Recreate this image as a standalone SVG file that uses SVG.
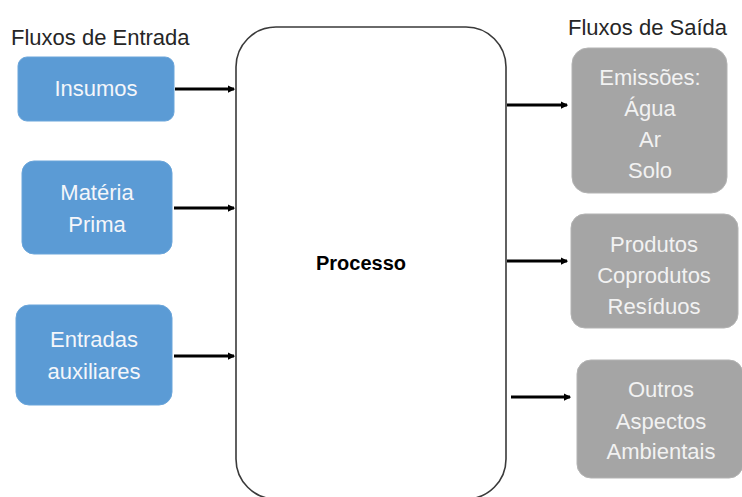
<svg xmlns="http://www.w3.org/2000/svg" width="742" height="497" viewBox="0 0 742 497">
<style>
.hdr{font-family:"Liberation Sans",Arial,sans-serif;font-size:22px;fill:#262626}
.bt{font-family:"Liberation Sans",Arial,sans-serif;font-size:22px;fill:#f4f6fa;text-anchor:middle}
.gt{font-family:"Liberation Sans",Arial,sans-serif;font-size:22px;fill:#f2f2f2;text-anchor:middle}
.blue{fill:#5b9bd5;stroke:#6aa5da;stroke-width:1}
.grey{fill:#a5a5a5;stroke:#b3b3b3;stroke-width:1}
.arr{stroke:#000;stroke-width:3;fill:none;marker-end:url(#ah)}
</style>
<defs>
<marker id="ah" viewBox="0 0 6 6" refX="5" refY="3" markerWidth="2.5" markerHeight="2.5" orient="auto" markerUnits="strokeWidth">
<path d="M0,0 L6,3 L0,6 z" fill="#000"/>
</marker>
</defs>
<rect width="742" height="497" fill="#fff"/>
<text class="hdr" x="11" y="45">Fluxos de Entrada</text>
<text class="hdr" x="568" y="35">Fluxos de Saída</text>
<g id="processo">
<rect x="236" y="27" width="270" height="472" rx="40" ry="40" fill="#fff" stroke="#3a3a3a" stroke-width="1.6"/>
<text x="361" y="270" font-family="Liberation Sans,Arial,sans-serif" font-size="20" font-weight="bold" text-anchor="middle" fill="#000">Processo</text>
</g>
<g id="insumos">
<rect class="blue" x="18" y="57" width="156" height="64" rx="9"/>
<text class="bt" x="96" y="96">Insumos</text>
</g>
<g id="materia-prima">
<rect class="blue" x="22" y="161" width="150" height="93" rx="12"/>
<text class="bt" x="97" y="200">Matéria</text>
<text class="bt" x="97" y="232">Prima</text>
</g>
<g id="entradas-auxiliares">
<rect class="blue" x="16" y="305" width="156" height="100" rx="13"/>
<text class="bt" x="94" y="347">Entradas</text>
<text class="bt" x="94" y="379">auxiliares</text>
</g>
<g id="emissoes">
<rect class="grey" x="572" y="48" width="155" height="145" rx="16"/>
<text class="gt" x="650" y="85">Emissões:</text>
<text class="gt" x="650" y="116">Água</text>
<text class="gt" x="650" y="147">Ar</text>
<text class="gt" x="650" y="178">Solo</text>
</g>
<g id="produtos">
<rect class="grey" x="571" y="214" width="167" height="114" rx="14"/>
<text class="gt" x="654" y="252">Produtos</text>
<text class="gt" x="654" y="283">Coprodutos</text>
<text class="gt" x="654" y="314">Resíduos</text>
</g>
<g id="outros">
<rect class="grey" x="577" y="360" width="166" height="118" rx="14"/>
<text class="gt" x="661" y="397">Outros</text>
<text class="gt" x="661" y="429">Aspectos</text>
<text class="gt" x="661" y="459">Ambientais</text>
</g>
<g id="connectors">
<line class="arr" x1="175" y1="89" x2="234" y2="89"/>
<line class="arr" x1="174" y1="208" x2="234" y2="208"/>
<line class="arr" x1="174" y1="356" x2="234" y2="356"/>
<line class="arr" x1="507" y1="105" x2="567" y2="105"/>
<line class="arr" x1="507" y1="261" x2="567" y2="261"/>
<line class="arr" x1="511" y1="397" x2="570" y2="397"/>
</g>
</svg>
